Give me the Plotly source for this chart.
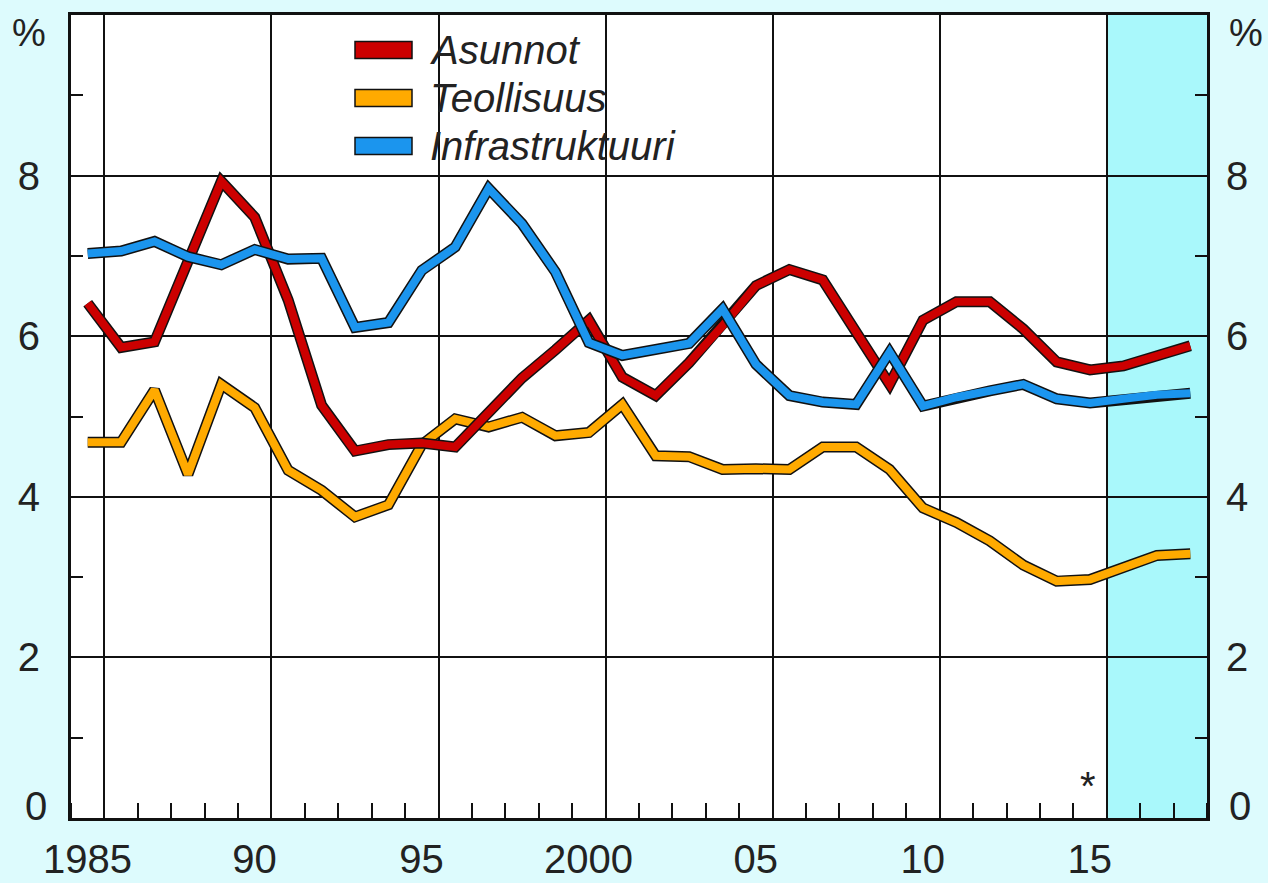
import plotly.graph_objects as go

# ---------------- data ----------------
years = list(range(1985, 2019))
asunnot = [6.41, 5.86, 5.93, 6.95, 7.93, 7.48, 6.45, 5.14, 4.57, 4.65,
           4.67, 4.62, 5.06, 5.48, 5.83, 6.20, 5.49, 5.26, 5.67, 6.13,
           6.63, 6.83, 6.70, 6.05, 5.40, 6.20, 6.43, 6.43, 6.09, 5.68,
           5.58, 5.63, 5.76, 5.88]
teollisuus = [4.68, 4.68, 5.33, 4.28, 5.40, 5.11, 4.33, 4.08, 3.75, 3.90,
              4.65, 4.97, 4.87, 4.99, 4.76, 4.80, 5.15, 4.51, 4.50, 4.34,
              4.35, 4.34, 4.62, 4.62, 4.34, 3.86, 3.68, 3.45, 3.15, 2.95,
              2.97, 3.11, 3.27, 3.29]
infrastruktuuri = [7.03, 7.06, 7.18, 6.99, 6.89, 7.08, 6.96, 6.97, 6.11, 6.17,
                   6.82, 7.11, 7.84, 7.40, 6.80, 5.92, 5.76, 5.83, 5.91, 6.34,
                   5.65, 5.26, 5.18, 5.15, 5.80, 5.13, 5.24, 5.32, 5.40, 5.22,
                   5.17, 5.22, 5.27, 5.29]
series_names = ["Asunnot", "Teollisuus", "Infrastruktuuri"]
forecast_first_year = 2016
x_label_years = [1985, 1990, 1995, 2000, 2005, 2010, 2015]
x_tick_labels = ["1985", "90", "95", "2000", "05", "10", "15"]
y_ticks = [0, 2, 4, 6, 8]
y_tick_labels = ["0", "2", "4", "6", "8"]

# ---------------- style ----------------
W, H = 1268, 883
ML, MR, MT, MB = 71, 61, 15, 65
PW, PH = W - ML - MR, H - MT - MB
FONT = "Liberation Sans"
TXT = "#222222"
BG = "#ddfbfd"
SHADE = "#a9f8fb"
COLORS = {"Asunnot": "#cc0000", "Teollisuus": "#ffaa00", "Infrastruktuuri": "#1b95ee"}
px_per_year = PW / (years[-1] - years[0] + 1)


def px_x(p):
    return (p - ML) / PW


def px_y(p):
    return (H - MB - p) / PH


data = {"Asunnot": asunnot, "Teollisuus": teollisuus, "Infrastruktuuri": infrastruktuuri}

fig = go.Figure()
for name in ["Teollisuus", "Asunnot", "Infrastruktuuri"]:
    fig.add_trace(go.Scatter(x=years, y=data[name], mode="lines",
                             line=dict(color="#111111", width=11),
                             showlegend=False, hoverinfo="skip"))
    fig.add_trace(go.Scatter(x=years, y=data[name], mode="lines", name=name,
                             line=dict(color=COLORS[name], width=8),
                             showlegend=False))

# dummy trace to activate right axis
fig.add_trace(go.Scatter(x=[None], y=[None], yaxis="y2", showlegend=False,
                         hoverinfo="skip"))

shapes = []
# forecast shading
shapes.append(dict(type="rect", xref="x", yref="paper",
                   x0=forecast_first_year - 0.5, x1=years[-1] + 0.5, y0=0, y1=1,
                   fillcolor=SHADE, line=dict(width=0), layer="below"))
# white legend box covering grid
shapes.append(dict(type="rect", xref="paper", yref="paper",
                   x0=px_x(292), x1=px_x(752), y0=px_y(168), y1=px_y(17),
                   fillcolor="white", line=dict(width=0), layer="between"))

annotations = []
legend_rows = [50, 98, 146]
for name, yc in zip(series_names, legend_rows):
    shapes.append(dict(type="rect", xref="paper", yref="paper",
                       x0=px_x(355), x1=px_x(412), y0=px_y(yc + 8.5), y1=px_y(yc - 8.5),
                       fillcolor=COLORS[name], line=dict(color="#111111", width=1.5),
                       layer="above"))
    annotations.append(dict(xref="paper", yref="paper", x=px_x(428), y=px_y(yc),
                            xanchor="left", yanchor="middle", showarrow=False,
                            text=f"<i>{name}</i>",
                            font=dict(family=FONT, size=40, color=TXT)))

# % labels
for xp in [29, 1246]:
    annotations.append(dict(xref="paper", yref="paper", x=px_x(xp), y=px_y(33),
                            xanchor="center", yanchor="middle", showarrow=False,
                            text="%", font=dict(family=FONT, size=38, color=TXT)))
# asterisk
annotations.append(dict(xref="paper", yref="paper", x=px_x(1088), y=px_y(786),
                        xanchor="center", yanchor="middle", showarrow=False,
                        text="*", font=dict(family=FONT, size=40, color=TXT)))

axis_font = dict(family=FONT, size=40, color=TXT)

# zero labels sit slightly raised above the bottom axis line
for xp, anchor in [(49, "right"), (1227, "left")]:
    annotations.append(dict(xref="paper", yref="y", x=px_x(xp), y=y_ticks[0],
                            yshift=12, xanchor=anchor, yanchor="middle",
                            showarrow=False, text=y_tick_labels[0], font=axis_font))
shown_y_labels = [""] + y_tick_labels[1:]

fig.update_layout(
    width=W, height=H,
    margin=dict(l=ML, r=MR, t=MT, b=MB, pad=0, autoexpand=False),
    paper_bgcolor=BG, plot_bgcolor="white",
    showlegend=False,
    shapes=shapes, annotations=annotations,
    xaxis=dict(range=[years[0] - 0.5, years[-1] + 0.5], automargin=False,
               tickmode="array",
               tickvals=[y + 0.5 for y in x_label_years],
               ticktext=x_tick_labels,
               ticklabelshift=-round(px_per_year / 2),
               ticklabelstandoff=4,
               ticks="", showgrid=True, gridcolor="#111111", gridwidth=2,
               zeroline=False, showline=True, linecolor="#111111", linewidth=3,
               mirror=True, tickfont=axis_font,
               minor=dict(tick0=0.5, dtick=1, ticks="inside", ticklen=15,
                          tickwidth=2, tickcolor="#111111", showgrid=False)),
    yaxis=dict(range=[0, 10], automargin=False, tickmode="array", tickvals=y_ticks,
               ticktext=shown_y_labels, ticks="", showgrid=True,
               gridcolor="#111111", gridwidth=2, zeroline=False,
               showline=True, linecolor="#111111", linewidth=3, mirror=True,
               tickfont=axis_font, ticklabelstandoff=20,
               minor=dict(tick0=1, dtick=2, ticks="inside", ticklen=12,
                          tickwidth=2, tickcolor="#111111", showgrid=False)),
    yaxis2=dict(range=[0, 10], automargin=False, overlaying="y", side="right", anchor="x",
                tickmode="array", tickvals=y_ticks, ticktext=shown_y_labels,
                ticks="", showgrid=False, zeroline=False, showline=False,
                tickfont=axis_font, ticklabelstandoff=18,
                minor=dict(tick0=1, dtick=2, ticks="inside", ticklen=12,
                           tickwidth=2, tickcolor="#111111", showgrid=False)),
)

fig.write_html("out.html", config={"displayModeBar": False},
               post_script="document.body.style.margin='0';")
